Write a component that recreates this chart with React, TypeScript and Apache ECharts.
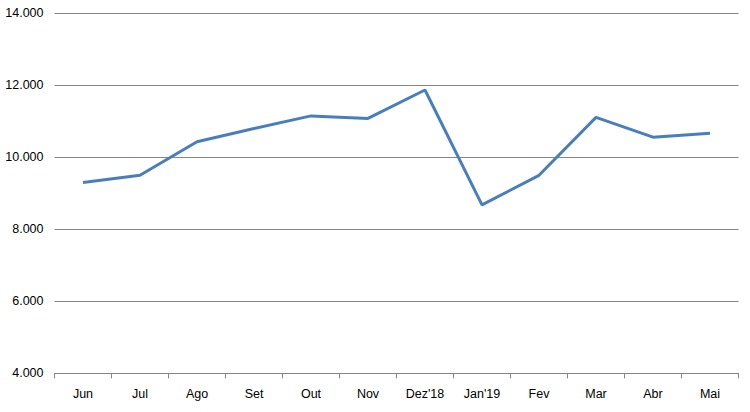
import React, { useEffect, useRef } from "react";
import * as echarts from "echarts";

const categories = ["Jun", "Jul", "Ago", "Set", "Out", "Nov", "Dez'18", "Jan'19", "Fev", "Mar", "Abr", "Mai"];
const values = [9300, 9500, 10430, 10800, 11150, 11080, 11870, 8680, 9500, 11110, 10560, 10670];
const yMin = 4000;
const yMax = 14000;
const yInterval = 2000;

const fmt = (v: number) => {
  const s = Math.round(v).toString();
  return s.replace(/\B(?=(\d{3})+(?!\d))/g, ".");
};

export default function App() {
  const ref = useRef<HTMLDivElement>(null);
  useEffect(() => {
    if (!ref.current) return;
    const chart = echarts.init(ref.current, undefined, { renderer: "svg" });
    const font = "'Liberation Sans', Arial, sans-serif";
    chart.setOption({
      animation: false,
      grid: { left: 54.5, right: 11.5, top: 13.3, bottom: 38.7, containLabel: false },
      xAxis: {
        type: "category",
        data: categories,
        boundaryGap: true,
        axisLine: { show: true, lineStyle: { color: "#868686", width: 1 } },
        axisTick: { show: true, alignWithLabel: false, length: 5, inside: false, lineStyle: { color: "#868686" } },
        axisLabel: { color: "#000000", fontSize: 12.5, fontFamily: font, margin: 14 },
        splitLine: { show: false },
      },
      yAxis: {
        type: "value",
        min: yMin,
        max: yMax,
        interval: yInterval,
        axisLine: { show: false },
        axisTick: { show: false },
        axisLabel: { color: "#000000", fontSize: 12.5, fontFamily: font, margin: 11, formatter: (v: number) => fmt(v) },
        splitLine: { show: true, lineStyle: { color: "#868686", width: 1 } },
      },
      series: [
        {
          type: "line",
          data: values,
          symbol: "none",
          lineStyle: { color: "#4a7ebb", width: 3 },
          itemStyle: { color: "#4a7ebb" },
        },
      ],
    });
    return () => chart.dispose();
  }, []);
  return <div ref={ref} style={{ width: 750, height: 412, position: "absolute", left: 0, top: 0 }} />;
}
